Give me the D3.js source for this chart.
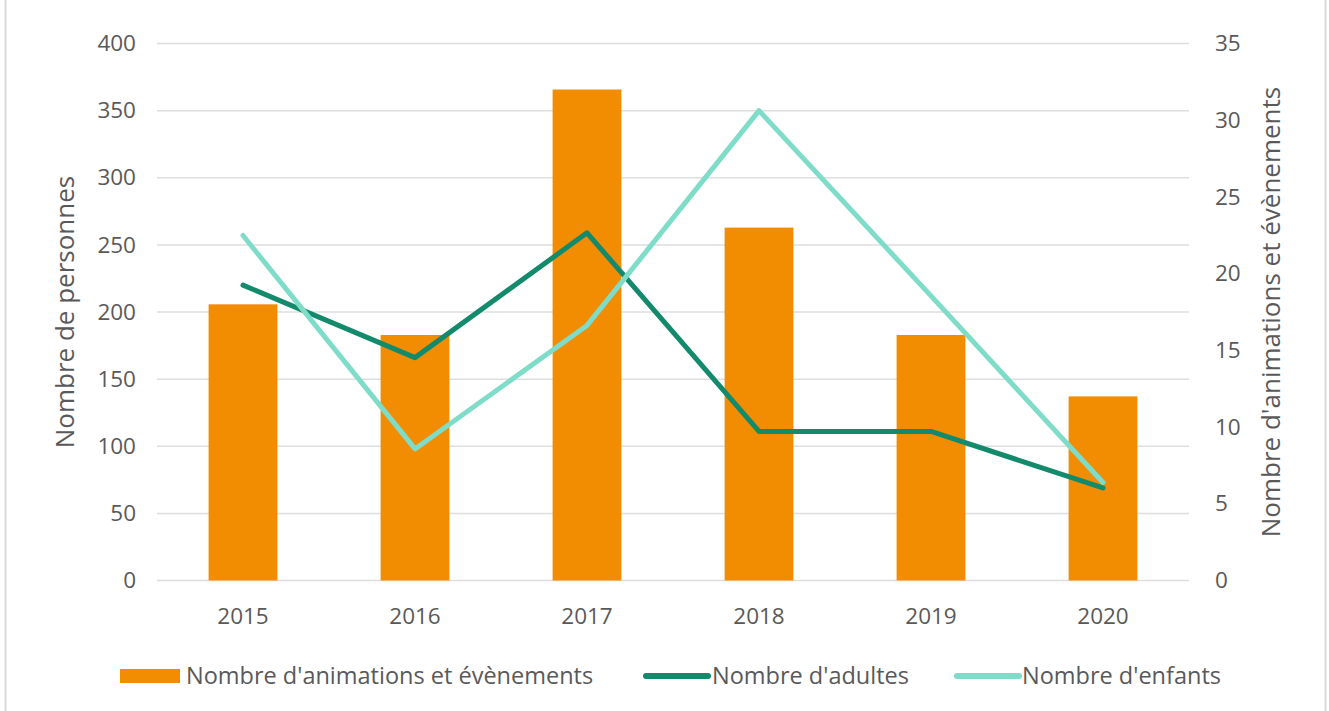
<!DOCTYPE html>
<html><head><meta charset="utf-8">
<script src="https://cdn.jsdelivr.net/npm/d3@7"></script>
<style>body{margin:0;background:#fff}svg text{font-family:"Open Sans","Noto Sans",sans-serif;fill:#595959}</style>
</head><body>
<svg id="c" width="1329" height="711"></svg>
<script>
const years = ["2015","2016","2017","2018","2019","2020"];
const animations = [18, 16, 32, 23, 16, 12];
const adultes = [220, 166, 259, 111, 111, 69];
const enfants = [257, 98, 190, 350, 212, 73];
const leftTicks = [0,50,100,150,200,250,300,350,400];
const rightTicks = [0,5,10,15,20,25,30,35];
const seriesNames = ["Nombre d'animations et évènements","Nombre d'adultes","Nombre d'enfants"];
const colors = ["#F28C00","#128A6B","#7EDCC9"];

const svg = d3.select("#c");
const L = 157, R = 1189, T = 43.5, B = 580.5;
const x = d3.scaleBand().domain(years).range([L, R]).paddingInner(0.6).paddingOuter(0.3);
const yL = d3.scaleLinear().domain([0,400]).range([B, T]);
const yR = d3.scaleLinear().domain([0,35]).range([B, T]);

// border
svg.append("line").attr("x1",5.5).attr("x2",5.5).attr("y1",0).attr("y2",711).attr("stroke","#d9d9d9").attr("stroke-width",2);
svg.append("line").attr("x1",1325.5).attr("x2",1325.5).attr("y1",0).attr("y2",711).attr("stroke","#d9d9d9").attr("stroke-width",2);

// gridlines
svg.append("g").selectAll("line").data(leftTicks).join("line")
  .attr("x1",L).attr("x2",R).attr("y1",d=>yL(d)).attr("y2",d=>yL(d))
  .attr("stroke","#dedede").attr("stroke-width",1.5);

// left axis
const gl = svg.append("g").attr("transform",`translate(${L},0)`)
  .call(d3.axisLeft(yL).tickValues(leftTicks).tickSize(0).tickPadding(21));
gl.select(".domain").remove();
gl.selectAll("text").attr("font-size",22.5).attr("fill","#595959").style("font-family","'Open Sans'");

// right axis
const gr = svg.append("g").attr("transform",`translate(${R},0)`)
  .call(d3.axisRight(yR).tickValues(rightTicks).tickSize(0).tickPadding(26));
gr.select(".domain").remove();
gr.selectAll("text").attr("font-size",22.5).attr("fill","#595959").style("font-family","'Open Sans'");

// x axis
const gx = svg.append("g").attr("transform",`translate(0,${B})`)
  .call(d3.axisBottom(x).tickSize(0).tickPadding(28));
gx.select(".domain").remove();
gx.selectAll("text").attr("font-size",22.5).attr("fill","#595959").style("font-family","'Open Sans'");

// bars
svg.append("g").selectAll("rect").data(years).join("rect")
  .attr("x",d=>x(d)).attr("width",x.bandwidth())
  .attr("y",(d,i)=>yR(animations[i])).attr("height",(d,i)=>B-yR(animations[i]))
  .attr("fill",colors[0]);

// lines
const cx = d => x(d)+x.bandwidth()/2;
const line = d3.line().x(d=>cx(d[0])).y(d=>yL(d[1]));
svg.append("path").datum(years.map((y,i)=>[y,adultes[i]])).attr("d",line)
  .attr("fill","none").attr("stroke",colors[1]).attr("stroke-width",5).attr("stroke-linecap","round").attr("stroke-linejoin","round");
svg.append("path").datum(years.map((y,i)=>[y,enfants[i]])).attr("d",line)
  .attr("fill","none").attr("stroke",colors[2]).attr("stroke-width",5).attr("stroke-linecap","round").attr("stroke-linejoin","round");

// axis titles
svg.append("text").attr("transform",`translate(65,${(T+B)/2}) rotate(-90)`).attr("text-anchor","middle")
  .attr("dy","0.35em").attr("font-size",26).text("Nombre de personnes");
svg.append("text").attr("transform",`translate(1271,${(T+B)/2}) rotate(-90)`).attr("text-anchor","middle")
  .attr("dy","0.35em").attr("font-size",26).text("Nombre d'animations et évènements");

// legend
const lg = svg.append("g");
const ly = 676;
lg.append("rect").attr("x",120).attr("y",ly-7).attr("width",60).attr("height",14).attr("fill",colors[0]);
lg.append("text").attr("x",186).attr("y",ly).attr("dy","0.35em").attr("font-size",23.5).text(seriesNames[0]);
lg.append("line").attr("x1",646).attr("x2",708).attr("y1",ly).attr("y2",ly).attr("stroke",colors[1]).attr("stroke-width",6).attr("stroke-linecap","round");
lg.append("text").attr("x",712).attr("y",ly).attr("dy","0.35em").attr("font-size",23.5).text(seriesNames[1]);
lg.append("line").attr("x1",957).attr("x2",1019).attr("y1",ly).attr("y2",ly).attr("stroke",colors[2]).attr("stroke-width",6).attr("stroke-linecap","round");
lg.append("text").attr("x",1022).attr("y",ly).attr("dy","0.35em").attr("font-size",23.5).text(seriesNames[2]);
</script>
</body></html>
